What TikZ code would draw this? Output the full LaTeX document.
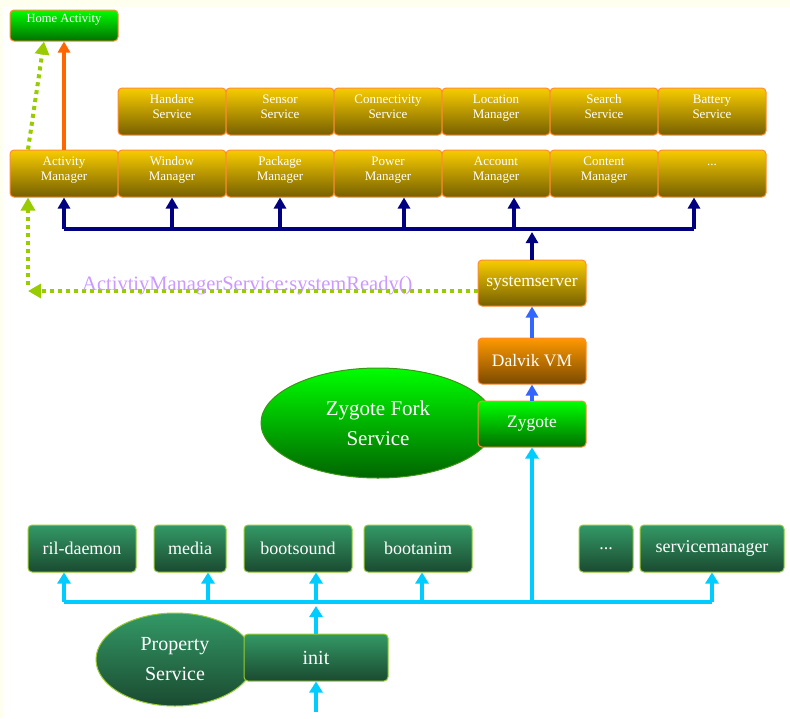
\documentclass[tikz,border=0pt]{standalone}
\usepackage{fontspec}
\setmainfont{Liberation Serif}
\usetikzlibrary{arrows.meta,shapes.geometric}
\definecolor{cream}{HTML}{FFFFF0}
\definecolor{goldtop}{HTML}{F8CC00}
\definecolor{goldbot}{HTML}{766000}
\definecolor{orbord}{HTML}{FF8C33}
\definecolor{dalvtop}{HTML}{FF9900}
\definecolor{dalvbot}{HTML}{7A4A00}
\definecolor{gtop}{HTML}{00FF00}
\definecolor{gbot}{HTML}{007000}
\definecolor{dgtop}{HTML}{339966}
\definecolor{dgbot}{HTML}{1A4A30}
\definecolor{dgbord}{HTML}{99CC33}
\definecolor{navyl}{HTML}{000080}
\definecolor{cyanl}{HTML}{00CCFF}
\definecolor{bluel}{HTML}{3366FF}
\definecolor{orangel}{HTML}{FF6600}
\definecolor{dotgreen}{HTML}{99CC00}
\definecolor{violetl}{HTML}{CC99FF}
\begin{document}
\begin{tikzpicture}[x=1pt,y=-1pt,
  base/.style={rectangle, rounded corners=4pt, line width=1pt, inner sep=0pt, text=white},
  gold/.style={base, draw=orbord, top color=goldtop, bottom color=goldbot, minimum width=108pt, minimum height=47pt},
  dalv/.style={base, draw=orbord, top color=dalvtop, bottom color=dalvbot, minimum width=108pt, minimum height=46pt},
  grn/.style={base, draw=orbord, top color=gtop, bottom color=gbot},
  dgrn/.style={base, draw=dgbord, top color=dgtop, bottom color=dgbot, minimum height=47pt},
  gtxt/.style={anchor=north, align=center, text=white, inner sep=0pt, yshift=-7pt, font=\fontsize{13}{15}\selectfont},
  bigtxt/.style={font=\fontsize{17.5}{20}\selectfont},
  btxt/.style={font=\fontsize{18}{20}\selectfont},
  navyarr/.style={draw=navyl, line width=3.5pt, -{Triangle[width=12pt,length=11pt]}},
  cyanarr/.style={draw=cyanl, line width=4pt, -{Triangle[width=13pt,length=11pt]}},
  bluearr/.style={draw=bluel, line width=3.5pt, -{Triangle[width=12pt,length=11pt]}},
  dotarr/.style={draw=dotgreen, line width=4pt, dash pattern=on 4pt off 4pt, -{Triangle[width=14pt,length=13pt]}}
]
% background
\fill[cream] (0,0) rectangle (790,718);
\fill[white] (3,7) rectangle (790,718);

% Home activity
\node[grn, minimum width=108pt, minimum height=31pt, label={[gtxt,yshift=2pt,font=\fontsize{12.5}{14}\selectfont]north:Home Activity}] (home) at (64,25.5) {};

% top row of services
\node[gold, label={[gtxt]north:{Handare\\Service}}] (hs) at (172,111.5) {};
\node[gold, label={[gtxt]north:{Sensor\\Service}}] (ss) at (280,111.5) {};
\node[gold, label={[gtxt]north:{Connectivity\\Service}}] (cs) at (388,111.5) {};
\node[gold, label={[gtxt]north:{Location\\Manager}}] (lm) at (496,111.5) {};
\node[gold, label={[gtxt]north:{Search\\Service}}] (srs) at (604,111.5) {};
\node[gold, label={[gtxt]north:{Battery\\Service}}] (bs) at (712,111.5) {};

% second row of managers
\node[gold, label={[gtxt]north:{Activity\\Manager}}] (am) at (64,173.5) {};
\node[gold, label={[gtxt]north:{Window\\Manager}}] (wm) at (172,173.5) {};
\node[gold, label={[gtxt]north:{Package\\Manager}}] (pkm) at (280,173.5) {};
\node[gold, label={[gtxt]north:{Power\\Manager}}] (pwm) at (388,173.5) {};
\node[gold, label={[gtxt]north:{Account\\Manager}}] (acm) at (496,173.5) {};
\node[gold, label={[gtxt]north:{Content\\Manager}}] (ctm) at (604,173.5) {};
\node[gold, label={[gtxt]north:{\vphantom{A}...}}] (more) at (712,173.5) {};

% system server chain
\node[gold, minimum height=46pt, bigtxt] (sys) at (532,283) {systemserver};
\node[dalv, bigtxt] (dvm) at (532,361) {Dalvik VM};
\node[ellipse, draw=gbot!60!dgbord, line width=1pt, top color=gtop, bottom color=gbot!90!black, minimum width=234pt, minimum height=110pt, inner sep=0pt, align=center, text=white, font=\fontsize{21}{30}\selectfont] (zfs) at (378,423) {Zygote Fork\\Service};
\node[grn, minimum width=108pt, minimum height=46pt, bigtxt] (zyg) at (532,424) {Zygote};

% bottom row
\node[dgrn, minimum width=108pt, btxt] (ril) at (82,548.5) {ril-daemon};
\node[dgrn, minimum width=72pt, btxt] (media) at (190,548.5) {media};
\node[dgrn, minimum width=108pt, btxt] (bsnd) at (298,548.5) {bootsound};
\node[dgrn, minimum width=108pt, btxt] (banim) at (418,548.5) {bootanim};
\node[dgrn, minimum width=54pt, btxt] (dots) at (606,548.5) {...};
\node[dgrn, minimum width=144pt, btxt] (smgr) at (712,548.5) {servicemanager};

% property service and init
\node[ellipse, draw=dgbord, line width=1pt, top color=dgtop, bottom color=dgbot, minimum width=158pt, minimum height=93pt, inner sep=0pt, align=center, text=white, font=\fontsize{20}{30}\selectfont] (prop) at (175,659.5) {Property\\Service};
\node[dgrn, minimum width=144pt, font=\fontsize{20}{22}\selectfont] (init) at (316,657.5) {init};

% navy bus
\coordinate (nb) at (532,229);
\draw[navyl, line width=3.5pt] (am.south |- nb) -- ([xshift=-18pt]more.south |- nb);
\draw[navyarr] (am.south |- nb) -- (am.south);
\draw[navyarr] (wm.south |- nb) -- (wm.south);
\draw[navyarr] (pkm.south |- nb) -- (pkm.south);
\draw[navyarr] ([xshift=16pt]pwm.south |- nb) -- ([xshift=16pt]pwm.south);
\draw[navyarr] ([xshift=18pt]acm.south |- nb) -- ([xshift=18pt]acm.south);
\draw[navyarr] ([xshift=-18pt]more.south |- nb) -- ([xshift=-18pt]more.south);
\draw[navyarr] (sys.north) -- ([yshift=-3pt]nb);

% orange arrow to home
\draw[draw=orangel, line width=3.5pt, -{Triangle[width=12pt,length=11pt]}] (am.north) -- (home.south);

% blue chain arrows
\draw[bluearr] (zyg.north) -- (dvm.south);
\draw[bluearr] (dvm.north) -- (sys.south);

% cyan bus
\coordinate (cb) at (532,602);
\draw[cyanl, line width=4pt] ([xshift=-18pt]ril.south |- cb) -- (smgr.south |- cb);
\draw[cyanarr] ([xshift=-18pt]ril.south |- cb) -- ([xshift=-18pt]ril.south);
\draw[cyanarr] ([xshift=18pt]media.south |- cb) -- ([xshift=18pt]media.south);
\draw[cyanarr] ([xshift=18pt]bsnd.south |- cb) -- ([xshift=18pt]bsnd.south);
\draw[cyanarr] ([xshift=4pt]banim.south |- cb) -- ([xshift=4pt]banim.south);
\draw[cyanarr] (smgr.south |- cb) -- (smgr.south);
\draw[cyanarr] (cb) -- (zyg.south);
\draw[cyanarr] (init.north) -- ([yshift=-4pt]init.north |- cb);
\coordinate (start) at (316,712);
\draw[cyanarr] (start) -- (init.south);

% dotted green arrows
\coordinate (corner) at (28,291);
\draw[dotarr] ([yshift=-8pt]sys.west) -- (corner);
\node[anchor=base west, text=violetl, inner sep=0pt, font=\fontsize{20.5}{22}\selectfont] (ready) at (82,290) {ActivtiyManagerService:systemReady()};
\draw[dotarr] ([yshift=6pt]corner) -- (corner |- am.south);
\draw[dotarr] (corner |- am.north) -- ([xshift=-20pt]home.south);
\end{tikzpicture}
\end{document}
